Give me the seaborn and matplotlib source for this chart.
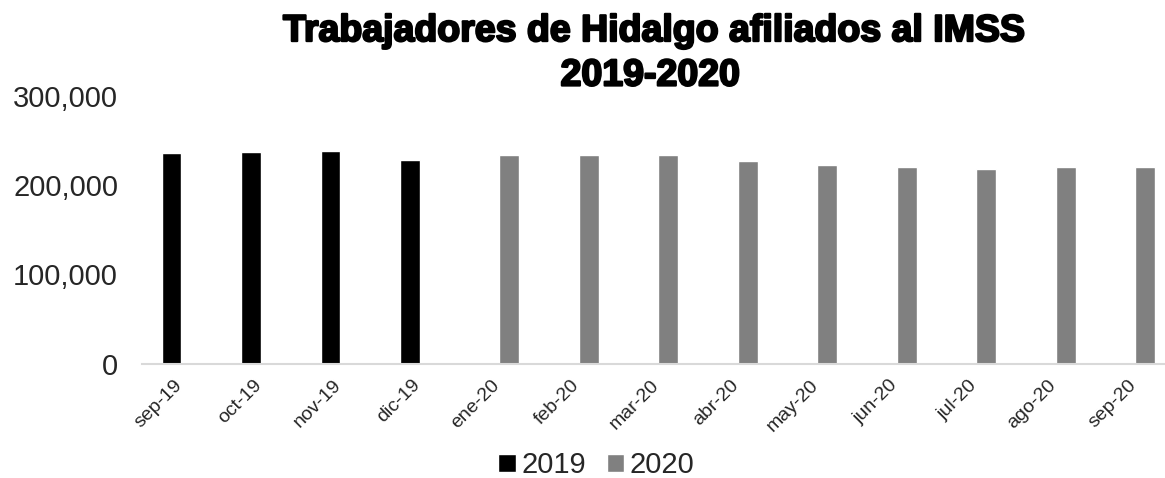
import pandas as pd
import matplotlib
matplotlib.use("Agg")
import matplotlib.pyplot as plt
import matplotlib.patheffects as pe
import matplotlib.transforms as mtransforms
from matplotlib.patches import Patch
from matplotlib.ticker import FuncFormatter
import seaborn as sns

# datos
meses = ["sep-19", "oct-19", "nov-19", "dic-19", "ene-20", "feb-20", "mar-20",
         "abr-20", "may-20", "jun-20", "jul-20", "ago-20", "sep-20"]
anios = ["2019", "2019", "2019", "2019", "2020", "2020", "2020",
         "2020", "2020", "2020", "2020", "2020", "2020"]
trabajadores = [236300, 237100, 238600, 228100, 233400, 234100, 233400,
                226700, 222900, 220600, 217700, 220600, 220600]
colores = {"2019": "#000000", "2020": "#808080"}

df = pd.DataFrame({"mes": meses, "anio": anios, "trabajadores": trabajadores})

sns.set_style("white")
plt.rcParams["font.family"] = ["Liberation Sans", "DejaVu Sans"]

fig = plt.figure(figsize=(11.65, 4.78), dpi=100)
ax = fig.add_axes([0.1216, 0.2395, 0.887, 0.5598])

sns.barplot(data=df, x="mes", y="trabajadores", hue="anio", order=meses,
            hue_order=["2019", "2020"], palette=colores, width=0.5,
            dodge=True, saturation=1, ax=ax, legend=False)

ax.set_xlim(-0.5, 12.5)
ax.set_ylim(0, 300000)
ax.set_yticks([0, 100000, 200000, 300000])
ax.yaxis.set_major_formatter(FuncFormatter(lambda v, p: f"{int(v):,}"))
ax.set_xlabel("")
ax.set_ylabel("")

sns.despine(ax=ax, left=True, top=True, right=True)
ax.spines["bottom"].set_color("#d9d9d9")
ax.spines["bottom"].set_linewidth(1.5)
ax.tick_params(axis="y", length=0, pad=17, labelsize=21, labelcolor="#262626")
ax.tick_params(axis="x", length=0, pad=8, labelsize=14, labelcolor="#262626")
offset = mtransforms.ScaledTranslation(-0.08, -0.02, fig.dpi_scale_trans)
for lbl in ax.get_xticklabels():
    lbl.set_rotation(45)
    lbl.set_ha("right")
    lbl.set_rotation_mode("anchor")
    lbl.set_transform(lbl.get_transform() + offset)

# titulo
titulo = fig.text(0.561, 0.935, "Trabajadores de Hidalgo afiliados al IMSS",
                  ha="center", va="center", fontsize=27, fontweight="bold",
                  color="black")
titulo2 = fig.text(0.558, 0.842, "2019-2020", ha="center", va="center",
                   fontsize=27, fontweight="bold", color="black")
for t in (titulo, titulo2):
    t.set_path_effects([pe.withStroke(linewidth=1.6, foreground="black")])

handles = [Patch(facecolor=colores["2019"], label="2019"),
           Patch(facecolor=colores["2020"], label="2020")]
fig.legend(handles=handles, loc="center", bbox_to_anchor=(0.512, 0.027),
           ncol=2, frameon=False, fontsize=21, handlelength=0.6,
           handleheight=0.6, handletextpad=0.2, columnspacing=0.7,
           labelcolor="#262626")

fig.savefig("out.png", dpi=100)
